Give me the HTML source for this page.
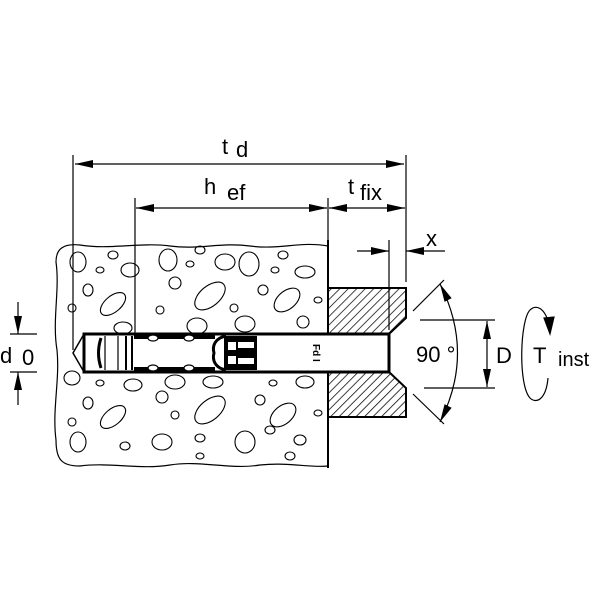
<!DOCTYPE html>
<html><head><style>body{margin:0;background:#fff}svg{display:block}text{font-family:"Liberation Sans",sans-serif;fill:#000}</style></head>
<body>
<svg width="600" height="600" viewBox="0 0 600 600">
<defs>
<marker id="a" viewBox="0 0 10 10" refX="10" refY="5" markerWidth="18" markerHeight="8" markerUnits="userSpaceOnUse" preserveAspectRatio="none" orient="auto-start-reverse"><path d="M0,0 L10,5 L0,10z" fill="#000"/></marker>
<pattern id="h" width="6" height="6" patternUnits="userSpaceOnUse" patternTransform="rotate(45)"><line x1="0" y1="0" x2="0" y2="6" stroke="#000" stroke-width="1.5"/></pattern>
</defs>
<g stroke="#000" fill="none" stroke-width="1.2">
<path d="M328,246 C300,241 280,250 250,246 C220,242 200,250 170,246 C140,242 110,250 80,245 C62,243 56,250 56,262 C60,290 52,320 57,350 C60,380 52,410 56,440 C56,460 62,466 80,466 C110,462 140,470 170,465 C200,460 230,470 260,465 C290,462 310,468 328,466" />
<line x1="328" y1="240" x2="328" y2="468" stroke-width="2"/>
<g stroke-width="1.1">
<ellipse cx="78" cy="262" rx="8" ry="10"/><ellipse cx="113" cy="255" rx="5" ry="4"/><ellipse cx="100" cy="270" rx="4" ry="3"/><ellipse cx="130" cy="270" rx="9" ry="7"/><ellipse cx="168" cy="260" rx="9" ry="11"/><ellipse cx="200" cy="250" rx="5" ry="4"/><ellipse cx="190" cy="264" rx="4" ry="3"/><ellipse cx="225" cy="262" rx="10" ry="8"/><ellipse cx="249" cy="264" rx="10" ry="12"/><ellipse cx="283" cy="255" rx="5" ry="4"/><ellipse cx="275" cy="270" rx="4" ry="3"/><ellipse cx="305" cy="272" rx="10" ry="6"/>
<ellipse cx="88" cy="290" rx="5" ry="6"/><ellipse cx="113" cy="304" rx="15" ry="8" transform="rotate(-40 113 304)"/><ellipse cx="175" cy="283" rx="6" ry="6"/><ellipse cx="210" cy="296" rx="18" ry="10" transform="rotate(-40 210 296)"/><ellipse cx="263" cy="290" rx="5" ry="5"/><ellipse cx="287" cy="300" rx="15" ry="9" transform="rotate(-40 287 300)"/><ellipse cx="318" cy="300" rx="4" ry="3"/><ellipse cx="72" cy="308" rx="4" ry="4"/><ellipse cx="160" cy="310" rx="4" ry="4"/><ellipse cx="234" cy="308" rx="4" ry="4"/><ellipse cx="123" cy="328" rx="9" ry="6"/><ellipse cx="197" cy="326" rx="10" ry="8"/><ellipse cx="245" cy="324" rx="10" ry="8"/><ellipse cx="303" cy="322" rx="6" ry="6"/>
<ellipse cx="72" cy="378" rx="8" ry="7"/><ellipse cx="100" cy="383" rx="4" ry="3"/><ellipse cx="133" cy="385" rx="9" ry="6"/><ellipse cx="175" cy="382" rx="10" ry="7"/><ellipse cx="213" cy="382" rx="10" ry="6"/><ellipse cx="273" cy="383" rx="4" ry="3"/><ellipse cx="305" cy="382" rx="9" ry="6"/>
<ellipse cx="88" cy="403" rx="5" ry="6"/><ellipse cx="113" cy="417" rx="15" ry="8" transform="rotate(-40 113 417)"/><ellipse cx="162" cy="397" rx="6" ry="6"/><ellipse cx="175" cy="415" rx="4" ry="4"/><ellipse cx="210" cy="410" rx="18" ry="10" transform="rotate(-40 210 410)"/><ellipse cx="260" cy="400" rx="5" ry="5"/><ellipse cx="283" cy="415" rx="15" ry="9" transform="rotate(-40 283 415)"/><ellipse cx="318" cy="413" rx="4" ry="3"/><ellipse cx="72" cy="422" rx="4" ry="4"/>
<ellipse cx="78" cy="442" rx="8" ry="10"/><ellipse cx="125" cy="446" rx="5" ry="4"/><ellipse cx="162" cy="442" rx="10" ry="8"/><ellipse cx="200" cy="438" rx="5" ry="4"/><ellipse cx="245" cy="442" rx="10" ry="11"/><ellipse cx="270" cy="430" rx="5" ry="4"/><ellipse cx="300" cy="440" rx="6" ry="5"/><ellipse cx="290" cy="456" rx="5" ry="4"/><ellipse cx="200" cy="456" rx="4" ry="3"/>
</g>
<path d="M328,288 H406 V318 L389,334 H328Z M328,372 H389 L406,388 V417 H328Z" fill="url(#h)" stroke-width="2"/>
<!-- bolt -->
<rect x="84" y="334" width="305" height="38" fill="#fff" stroke-width="3"/>
<path d="M84,334 L73,353 L84,372" stroke-width="1.5"/>
<path d="M101,338 Q96,353 101,368" stroke-width="3"/>
<line x1="105" y1="336" x2="105" y2="370"/><line x1="118" y1="336" x2="118" y2="370"/><line x1="126" y1="336" x2="126" y2="370" stroke-width="2"/><line x1="132" y1="336" x2="132" y2="370" stroke-width="2"/>
<line x1="134" y1="337" x2="215" y2="337" stroke-width="4"/><line x1="134" y1="369" x2="215" y2="369" stroke-width="4"/>
<ellipse cx="153" cy="338" rx="5" ry="3" fill="#fff"/><ellipse cx="189" cy="338" rx="5" ry="3" fill="#fff"/>
<ellipse cx="153" cy="368" rx="5" ry="3" fill="#fff"/><ellipse cx="189" cy="368" rx="5" ry="3" fill="#fff"/>
<path d="M226,336 C215,338 212,346 214,353 C212,360 215,368 226,370" stroke-width="3"/>
<rect x="224" y="336" width="32" height="34" fill="#000" stroke="none"/>
<rect x="228" y="342" width="8" height="8" fill="#fff" stroke="none"/><rect x="238" y="342" width="16" height="6" fill="#fff" stroke="none"/>
<rect x="228" y="356" width="8" height="8" fill="#fff" stroke="none"/><rect x="238" y="358" width="16" height="6" fill="#fff" stroke="none"/>
<line x1="256" y1="336" x2="256" y2="370" stroke-width="2"/>
<text x="313" y="344" font-size="10" font-weight="bold" transform="rotate(90 313 344)" stroke="none">Fd I</text>
<!-- dimension lines -->
<line x1="73" y1="155" x2="73" y2="350"/>
<line x1="406" y1="155" x2="406" y2="282"/>
<line x1="135" y1="198" x2="135" y2="334"/>
<line x1="328" y1="198" x2="328" y2="240"/>
<line x1="389" y1="240" x2="389" y2="330"/>
<line x1="75" y1="164" x2="404" y2="164" marker-start="url(#a)" marker-end="url(#a)"/>
<line x1="136" y1="208" x2="327" y2="208" marker-start="url(#a)" marker-end="url(#a)"/>
<line x1="329" y1="208" x2="405" y2="208" marker-start="url(#a)" marker-end="url(#a)"/>
<line x1="357" y1="251" x2="389" y2="251" marker-end="url(#a)"/>
<line x1="445" y1="251" x2="406" y2="251" marker-end="url(#a)"/>
<line x1="10" y1="334" x2="37" y2="334"/><line x1="10" y1="372" x2="37" y2="372"/>
<line x1="18" y1="302" x2="18" y2="334" marker-end="url(#a)"/><line x1="18" y1="405" x2="18" y2="372" marker-end="url(#a)"/>
<line x1="413" y1="311" x2="444" y2="280"/><line x1="413" y1="394" x2="444" y2="424"/>
<path d="M440,284 Q475,353 440,422" marker-start="url(#a)" marker-end="url(#a)"/>
<line x1="420" y1="320" x2="495" y2="320"/><line x1="424" y1="388" x2="495" y2="388"/>
<line x1="487" y1="321" x2="487" y2="387" marker-start="url(#a)" marker-end="url(#a)"/>
<path d="M550,328 C545,305 535,305 530,310 C520,320 518,385 530,398 C536,404 546,400 548,378"/>
<path d="M544,318 L550,334 L554,317Z" fill="#000"/>
</g>
<g stroke="none">
<text x="222" y="154" font-size="22">t</text><text x="236" y="157" font-size="22">d</text>
<text x="204" y="194" font-size="22">h</text><text x="227" y="200" font-size="22">ef</text>
<text x="348" y="194" font-size="22">t</text><text x="360" y="200" font-size="22">fix</text>
<text x="426" y="246" font-size="22">x</text>
<text x="0" y="363" font-size="22">d</text><text x="22" y="365" font-size="22">0</text>
<text x="416" y="362" font-size="22">90 °</text>
<text x="496" y="363" font-size="22">D</text>
<text x="533" y="363" font-size="22">T</text><text x="558" y="366" font-size="20">inst</text>
</g>
</svg>
</body></html>
